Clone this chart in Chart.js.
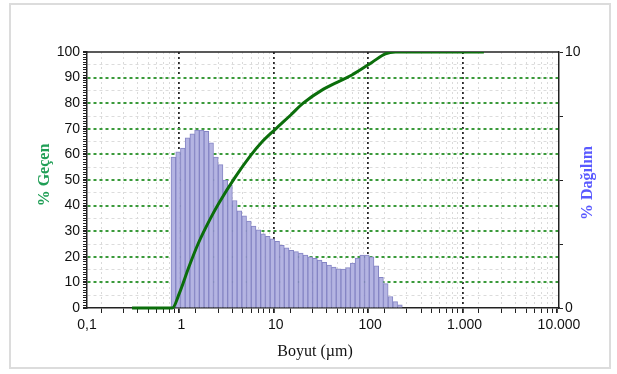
<!DOCTYPE html>
<html>
<head>
<meta charset="utf-8">
<script src="https://cdn.jsdelivr.net/npm/chart.js@4/dist/chart.umd.min.js"></script>
<style>
  html, body { margin: 0; padding: 0; background: #fff; }
  #wrap { position: relative; width: 617px; height: 374px; }
  #frame { position: absolute; left: 9px; top: 3px; width: 598px; height: 362px; border: 2px solid #dcdcdc; }
  canvas { position: absolute; left: 0; top: 0; }
</style>
</head>
<body>
<div id="wrap">
  <div id="frame"></div>
  <canvas id="chart" width="617" height="374"></canvas>
</div>
<script>
// channel centres (µm) of the size distribution
const binSizes = [0.822, 0.923, 1.035, 1.161, 1.303, 1.462, 1.641, 1.841, 2.065, 2.317,
  2.6, 2.917, 3.273, 3.673, 4.121, 4.624, 5.188, 5.821, 6.531, 7.328,
  8.222, 9.226, 10.35, 11.61, 13.03, 14.62, 16.41, 18.41, 20.65, 23.17,
  26.0, 29.17, 32.73, 36.73, 41.21, 46.24, 51.88, 58.21, 65.31, 73.28,
  82.22, 92.26, 103.5, 116.1, 130.3, 146.2, 164.1, 184.1, 206.5];

// % Dağılım (right axis, 0-10)
const distribution = [5.9, 6.1, 6.25, 6.65, 6.8, 6.95, 6.95, 6.9, 6.45, 5.9,
  5.6, 5.0, 4.8, 4.2, 3.8, 3.6, 3.4, 3.2, 3.05, 2.9,
  2.8, 2.7, 2.6, 2.45, 2.35, 2.25, 2.2, 2.15, 2.07, 2.0,
  1.94, 1.87, 1.78, 1.68, 1.6, 1.53, 1.52, 1.58, 1.75, 1.95,
  2.07, 2.07, 2.0, 1.65, 1.2, 0.95, 0.45, 0.25, 0.12];

// % Geçen (cumulative passing, left axis)
const cumSizes = [0.3, 0.8, 0.95, 1.2, 1.5, 2, 2.5, 3.7, 5.4, 7.2, 10, 14.5, 19.5, 32, 64, 105, 145, 185, 1600];
const cumPassing = [0, 0, 5.7, 16, 25, 34.5, 41, 51, 59.5, 65, 70, 75.5, 80, 85.5, 91, 96, 99.3, 100, 100];

const xTickLabels = { 0.1: '0,1', 1: '1', 10: '10', 100: '100', 1000: '1.000', 10000: '10.000' };
const y2TickLabels = { 0: '0', 10: '10' };

const xTicks = [];
for (let e = -1; e <= 3; e++) {
  for (let m = 1; m <= 9; m++) {
    xTicks.push(parseFloat((m * Math.pow(10, e)).toPrecision(6)));
  }
}
xTicks.push(10000);

const yTicks = [];
for (let v = 0; v <= 100; v++) yTicks.push(v);

const isDecade = (v) => Math.abs(Math.log10(v) - Math.round(Math.log10(v))) < 1e-9;
const tickFont = { family: '"Liberation Sans", Arial, sans-serif', size: 14 };
const serif = '"Liberation Serif", "Times New Roman", serif';
const clear = 'rgba(0,0,0,0)';

const topBorder = {
  id: 'topBorder',
  beforeDatasetsDraw(chart) {
    const { ctx, chartArea } = chart;
    ctx.save();
    ctx.strokeStyle = '#222';
    ctx.lineWidth = 1.5;
    ctx.beginPath();
    ctx.moveTo(chartArea.left, chartArea.top);
    ctx.lineTo(chartArea.right, chartArea.top);
    ctx.stroke();
    ctx.restore();
  }
};

const axisTitles = {
  id: 'axisTitles',
  afterDraw(chart) {
    const { ctx, chartArea } = chart;
    const midY = (chartArea.top + chartArea.bottom) / 2;
    ctx.save();
    ctx.textAlign = 'center';
    ctx.textBaseline = 'middle';

    ctx.font = '16px ' + serif;
    ctx.fillStyle = '#111';
    ctx.fillText('Boyut (µm)', 315, 352);

    ctx.font = 'bold 16px ' + serif;
    ctx.save();
    ctx.translate(45, midY - 5);
    ctx.rotate(-Math.PI / 2);
    ctx.fillStyle = '#1f9e55';
    ctx.fillText('% Geçen', 0, 0);
    ctx.restore();

    ctx.save();
    ctx.translate(588, midY + 3);
    ctx.rotate(-Math.PI / 2);
    ctx.fillStyle = '#5a5aff';
    ctx.fillText('% Dağılım', 0, 0);
    ctx.restore();

    ctx.restore();
  }
};

new Chart(document.getElementById('chart').getContext('2d'), {
  type: 'bar',
  data: {
    datasets: [
      {
        type: 'line',
        label: '% Geçen',
        data: cumSizes.map((s, i) => ({ x: s, y: cumPassing[i] })),
        yAxisID: 'y',
        borderColor: '#0b6e0b',
        borderWidth: 3,
        pointRadius: 0,
        fill: false,
        cubicInterpolationMode: 'monotone',
        clip: { left: false, top: 0, right: false, bottom: false },
        order: 0,
      },
      {
        label: '% Dağılım',
        data: binSizes.map((s, i) => ({ x: s, y: distribution[i] })),
        yAxisID: 'y2',
        backgroundColor: '#b4b4e2',
        borderColor: '#8585c4',
        borderWidth: 1,
        barThickness: 'flex',
        barPercentage: 1,
        categoryPercentage: 1,
        order: 1,
      },
    ],
  },
  options: {
    responsive: false,
    animation: false,
    layout: { padding: { top: 52, left: 0, right: 0, bottom: 0 } },
    plugins: {
      legend: { display: false },
      tooltip: { enabled: false },
    },
    scales: {
      x: {
        type: 'logarithmic',
        min: 0.1,
        max: 10000,
        offset: false,
        afterBuildTicks: (s) => { s.ticks = xTicks.map((v) => ({ value: v })); },
        afterFit: (s) => { s.height = 66; },
        ticks: {
          autoSkip: false,
          maxRotation: 0,
          color: '#111',
          font: tickFont,
          padding: 4,
          callback: (v) => xTickLabels[v] ?? '',
        },
        grid: {
          color: (c) => {
            const v = c.tick && c.tick.value;
            if (!v || v === 0.1 || v === 10000) return clear;
            return isDecade(v) ? '#2a2a2a' : '#dadada';
          },
          lineWidth: (c) => (c.tick && isDecade(c.tick.value) ? 1.8 : 1),
          tickColor: '#222',
          tickLength: 5,
        },
        border: { display: true, color: '#222', width: 1.5, dash: [2, 3] },
      },
      y: {
        position: 'left',
        min: 0,
        max: 100,
        afterBuildTicks: (s) => { s.ticks = yTicks.map((v) => ({ value: v })); },
        afterFit: (s) => { s.width = 87; },
        ticks: {
          autoSkip: false,
          color: '#111',
          font: tickFont,
          padding: 3,
          callback: (v) => (v % 10 === 0 ? String(v) : ''),
        },
        grid: {
          color: (c) => {
            const v = c.tick && c.tick.value;
            if (v === undefined || v === 0 || v === 100) return clear;
            if (v % 10 === 0) return '#3a9a3a';
            if (v % 5 === 0) return '#dcdcdc';
            return clear;
          },
          lineWidth: (c) => (c.tick && c.tick.value % 10 === 0 ? 2 : 1),
          tickColor: '#222',
          tickLength: 4,
        },
        border: { display: true, color: '#222', width: 1.5, dash: [3, 3] },
      },
      y2: {
        position: 'right',
        min: 0,
        max: 10,
        afterBuildTicks: (s) => { s.ticks = [0, 2.5, 5, 7.5, 10].map((v) => ({ value: v })); },
        afterFit: (s) => { s.width = 617 - 559; },
        ticks: {
          autoSkip: false,
          color: '#111',
          font: tickFont,
          padding: 2,
          callback: (v) => y2TickLabels[v] ?? '',
        },
        grid: {
          drawOnChartArea: false,
          tickColor: '#222',
          tickLength: 4,
        },
        border: { display: true, color: '#222', width: 1.5 },
      },
    },
  },
  plugins: [topBorder, axisTitles],
});
</script>
</body>
</html>
